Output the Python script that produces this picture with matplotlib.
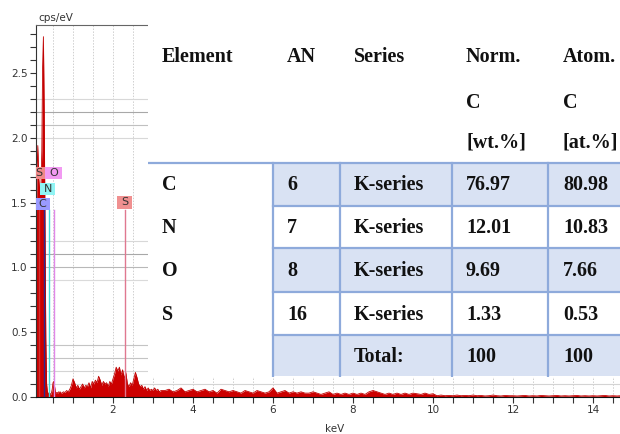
import numpy as np
import matplotlib
matplotlib.use("Agg")
import matplotlib.pyplot as plt
from matplotlib.patches import Rectangle
from matplotlib.ticker import MultipleLocator

# ---------------- EDS spectrum (cps/eV) ----------------
# three sampling segments: start energy (keV), step (keV), counts
fine_start, fine_step = 0.08, 0.02
counts_fine = [1.20, 1.75, 1.94, 1.70, 1.62, 1.60, 1.65, 1.90, 2.55, 2.78,
               2.20, 1.30, 0.45, 0.10, 0.04, 0.03, 0.02, 0.03, 0.02, 0.03,
               0.06, 0.11, 0.12, 0.08, 0.04, 0.03, 0.035, 0.03, 0.04, 0.035,
               0.04, 0.03]

mid_start, mid_step = 0.72, 0.04
counts_mid = [0.03, 0.04, 0.035, 0.05, 0.04, 0.06, 0.09, 0.14, 0.11, 0.07,
              0.09, 0.06, 0.08, 0.10, 0.07, 0.09, 0.08, 0.11, 0.07, 0.12,
              0.10, 0.13, 0.11, 0.16, 0.13, 0.09, 0.12, 0.10, 0.11, 0.08,
              0.12, 0.10, 0.14, 0.18, 0.23, 0.20, 0.23, 0.17, 0.21, 0.14,
              0.19, 0.10, 0.08, 0.11, 0.09, 0.14, 0.19, 0.15, 0.10, 0.08,
              0.09, 0.06, 0.08, 0.05, 0.07, 0.05, 0.06, 0.05, 0.07, 0.05,
              0.06, 0.04, 0.05]

tail_start, tail_step = 3.3, 0.1
counts_tail = [0.05, 0.06, 0.04, 0.05, 0.07, 0.04, 0.05, 0.06,
               0.04, 0.05, 0.06, 0.04, 0.05, 0.03, 0.06, 0.05, 0.04, 0.05,
               0.04, 0.03, 0.05, 0.04, 0.03, 0.05, 0.04, 0.03, 0.04, 0.07,
               0.03, 0.04, 0.05, 0.03, 0.04, 0.03, 0.04, 0.03, 0.03, 0.04,
               0.03, 0.02, 0.03, 0.04, 0.02, 0.03, 0.02, 0.03, 0.02, 0.03,
               0.02, 0.03, 0.02, 0.04, 0.05, 0.04, 0.03, 0.02, 0.03, 0.02,
               0.03, 0.02, 0.03, 0.02, 0.03, 0.025, 0.02, 0.03, 0.02, 0.025,
               0.010, 0.015, 0.010, 0.012, 0.010, 0.015, 0.010, 0.012, 0.010, 0.015,
               0.010, 0.012, 0.008, 0.010, 0.015, 0.010, 0.008, 0.012, 0.010, 0.010,
               0.008, 0.010, 0.012, 0.008, 0.010, 0.008, 0.012, 0.010, 0.008, 0.010,
               0.012, 0.008, 0.010, 0.008, 0.010, 0.012, 0.008, 0.010, 0.008, 0.010,
               0.008, 0.010, 0.012, 0.008, 0.010, 0.008, 0.010]

# characteristic lines marked on the spectrum
line_labels = ["S", "C", "N", "O", "S"]
line_energies = [0.149, 0.277, 0.392, 0.525, 2.307]

# ---------------- quantification table ----------------
header_rows = [["Element", "AN", "Series", "Norm.", "Atom."],
               ["", "", "", "C", "C"],
               ["", "", "", "[wt.%]", "[at.%]"]]
elements = ["C", "N", "O", "S"]
atomic_numbers = [6, 7, 8, 16]
series = ["K-series", "K-series", "K-series", "K-series"]
norm_wt = [76.97, 12.01, 9.69, 1.33]
atom_at = [80.98, 10.83, 7.66, 0.53]
total_label = "Total:"
total_norm = "100"
total_atom = "100"

# ---------------- figure ----------------
W, H = 620, 434
fig = plt.figure(figsize=(W / 100, H / 100), dpi=100)
fig.patch.set_facecolor("white")

ax = fig.add_axes([36 / W, 1 - 397 / H, (620 - 36) / W, (397 - 25) / H])
ax.set_xlim(0.075, 14.675)
ax.set_ylim(0, 2.870)

def segment(start, step, vals):
    return start + step * np.arange(len(vals)), np.asarray(vals, float)

segs = [segment(fine_start, fine_step, counts_fine),
        segment(mid_start, mid_step, counts_mid),
        segment(tail_start, tail_step, counts_tail)]
energy = np.concatenate([s[0] for s in segs])
counts = np.concatenate([s[1] for s in segs])

# grid
for e in np.arange(0.5, 14.7, 0.5):
    ax.axvline(e, color="#cfcfcf", lw=0.7, ls=(0, (1.5, 1.5)), zorder=0)
hgrid = {2.3: "#d8d8d8", 2.2: "#a8a8a8", 2.1: "#c0c0c0", 2.0: "#d8d8d8",
         1.2: "#d8d8d8", 1.1: "#a8a8a8", 1.0: "#b8b8b8", 0.9: "#dadada",
         0.4: "#c4c4c4", 0.3: "#c4c4c4", 0.2: "#d4d4d4", 0.1: "#d4d4d4"}
for yv, c in hgrid.items():
    ax.axhline(yv, color=c, lw=0.8, zorder=0)

ax.fill_between(energy, counts, color="#cc0000", lw=0, zorder=2)
ax.plot(energy, counts, color="#c00000", lw=0.6, zorder=2)

# line markers
line_colors = ["#d03030", "#2a2a90", "#40dada", "#e088e8", "#e07890"]
for lab, e, c in zip(line_labels, line_energies, line_colors):
    ax.plot([e, e], [0, 1.44], color=c, lw=1.0, zorder=3)

# label boxes (keV range, value range, face colour, text x)
boxes = [("S", 0.05, 0.30, 1.682, 1.775, "#f08888", 0.14),
         ("O", 0.30, 0.725, 1.682, 1.775, "#f29af2", 0.51),
         ("N", 0.175, 0.55, 1.559, 1.651, "#90f4f4", 0.37),
         ("C", 0.05, 0.425, 1.443, 1.535, "#9a9aff", 0.22),
         ("S", 2.11, 2.475, 1.451, 1.551, "#f09090", 2.30)]
for lab, x0, x1, y0, y1, fc, tx in boxes:
    ax.add_patch(Rectangle((x0, y0), x1 - x0, y1 - y0, facecolor=fc,
                           edgecolor="none", zorder=4))
    ax.text(tx, (y0 + y1) / 2, lab, ha="center", va="center", fontsize=8,
            color="#333333", zorder=5)

# axes styling
ax.xaxis.set_major_locator(MultipleLocator(2))
ax.xaxis.set_minor_locator(MultipleLocator(0.5))
ax.yaxis.set_major_locator(MultipleLocator(0.5))
ax.yaxis.set_minor_locator(MultipleLocator(0.1))
ax.tick_params(which="both", direction="out", length=4, width=0.8,
               color="#333333", labelsize=7.5, labelcolor="#333333", pad=2)
ax.xaxis.set_major_formatter(plt.FuncFormatter(lambda v, p: f"{v:g}"))
ax.yaxis.set_major_formatter(plt.FuncFormatter(lambda v, p: f"{v:.1f}"))
for side in ("right",):
    ax.spines[side].set_visible(False)
ax.spines["top"].set_color("#666666")
ax.spines["left"].set_color("#333333")
ax.spines["bottom"].set_color("#111111")

fig.text(38 / W, 1 - 18 / H, "cps/eV", fontsize=7.5, color="#333333",
         ha="left", va="center")
fig.text(335 / W, 1 - 429 / H, "keV", fontsize=7.5, color="#333333",
         ha="center", va="center")

# ---------------- table overlay ----------------
tx0, ty0, tx1, ty1 = 148, 0, 620, 377
tab = fig.add_axes([tx0 / W, 1 - ty1 / H, (tx1 - tx0) / W, (ty1 - ty0) / H])
tab.set_xlim(tx0, tx1)
tab.set_ylim(ty1, ty0)
tab.set_axis_off()
tab.add_patch(Rectangle((tx0, ty0), tx1 - tx0, ty1 - ty0, facecolor="white",
                        edgecolor="none", zorder=0))

col_edges = [148, 273, 340, 452, 548, 640]
row_edges = [163, 206, 248, 292, 335, 376]
text_x = [162, 287, 354, 466, 563]
header_y = [57, 103, 143]
shade = "#d9e2f3"
border = "#8eaadb"

for r in (0, 2, 4):
    tab.add_patch(Rectangle((col_edges[1], row_edges[r]),
                            col_edges[-1] - col_edges[1],
                            row_edges[r + 1] - row_edges[r],
                            facecolor=shade, edgecolor="none", zorder=1))

tab.plot([148, 640], [163, 163], color=border, lw=1.6, zorder=2)
for yv in row_edges[1:-1]:
    tab.plot([273, 640], [yv, yv], color=border, lw=1.6, zorder=2)
for xv in col_edges[1:5]:
    tab.plot([xv, xv], [163, 376], color=border, lw=1.6, zorder=2)

font = dict(family="Liberation Serif", fontweight="bold", fontsize=14.5,
            color="#111111", va="center", ha="left", zorder=3)
for row, yv in zip(header_rows, header_y):
    for txt, xv in zip(row, text_x):
        if txt:
            tab.text(xv, yv, txt, **font)

body_y = [(row_edges[i] + row_edges[i + 1]) / 2 + 1 for i in range(5)]
for i in range(4):
    vals = [elements[i], str(atomic_numbers[i]), series[i],
            f"{norm_wt[i]:.2f}", f"{atom_at[i]:.2f}"]
    for txt, xv in zip(vals, text_x):
        tab.text(xv, body_y[i], txt, **font)
for txt, xv in zip([total_label, total_norm, total_atom], text_x[2:]):
    tab.text(xv, body_y[4], txt, **font)

fig.savefig("out.png", dpi=100, facecolor="white")
